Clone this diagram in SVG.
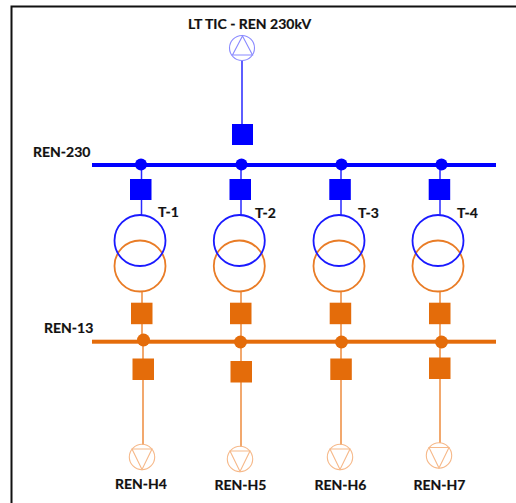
<svg xmlns="http://www.w3.org/2000/svg" width="516" height="503" viewBox="0 0 516 503">
<style>
text{font-family:"Lato","Liberation Sans",sans-serif;font-weight:700;font-size:14px;fill:#111;stroke:#111;stroke-width:.2}
.bb{fill:#0000ff}.ob{fill:#e46c0a}
.bl{stroke:#2a2aff;stroke-width:1.5;fill:none}
.ol{stroke:#ee8c3e;stroke-width:1.5;fill:none}
.bw{stroke:#1a1aff;stroke-width:1.8;fill:none}
.ow{stroke:#e97c26;stroke-width:1.8;fill:none}
.gs{stroke:#8a8aff;stroke-width:1.1;fill:none}
.ls{stroke:#f6b98a;stroke-width:1.1;fill:none}
</style>
<rect width="516" height="503" fill="#fff"/>
<path id="frame" d="M11.5 503V6.5H516" fill="none" stroke="#111" stroke-width="2"/>
<g id="connectors">
<path class="bl" d="M242 61V124M141.500 165V215M241 165V215M341 165V215M440 165V215"/>
<path class="ol" d="M142 291V303M241 291V303M341 291V303M440 291V303M142 324V342M241 324V342M341 324V342M440 324V342M143 342V445M241 342V447M341 342V445M440 342V443"/>
</g>
<g id="LT-TIC"><circle class="gs" cx="242" cy="48" r="12.500"/><path class="gs" d="M242.500 36L252.500 55H232.500Z"/><text x="188" y="29">LT TIC - REN 230kV</text></g>
<g id="CB-in"><rect class="bb" x="232" y="124" width="21" height="21"/></g>
<g id="REN-230"><rect class="bb" x="92" y="163" width="404" height="4"/><circle class="bb" cx="141" cy="164.500" r="6"/><circle class="bb" cx="241.500" cy="164.500" r="6"/><circle class="bb" cx="341.500" cy="164.500" r="6"/><circle class="bb" cx="441.500" cy="164.500" r="6"/><text x="33" y="157">REN-230</text></g>
<g id="T-1"><rect class="bb" x="130" y="179" width="21.500" height="21"/><circle class="ow" cx="140" cy="266" r="25.500"/><circle class="bw" cx="140" cy="240.500" r="25.500"/><text x="158" y="217">T-1</text></g>
<g id="T-2"><rect class="bb" x="229.500" y="179" width="21.500" height="21"/><circle class="ow" cx="239.300" cy="266" r="25.500"/><circle class="bw" cx="239.300" cy="240.500" r="25.500"/><text x="255" y="218">T-2</text></g>
<g id="T-3"><rect class="bb" x="329.300" y="179" width="21.500" height="21"/><circle class="ow" cx="339" cy="266" r="25.500"/><circle class="bw" cx="339" cy="240.500" r="25.500"/><text x="358" y="218">T-3</text></g>
<g id="T-4"><rect class="bb" x="428.700" y="179" width="21.500" height="21"/><circle class="ow" cx="438" cy="266" r="25.500"/><circle class="bw" cx="438" cy="240.500" r="25.500"/><text x="457" y="218">T-4</text></g>
<g id="REN-13"><rect class="ob" x="92" y="339.700" width="404" height="4"/><circle class="ob" cx="143.500" cy="340" r="6.500"/><circle class="ob" cx="240.500" cy="342" r="6.500"/><circle class="ob" cx="341.500" cy="342" r="6.500"/><circle class="ob" cx="441.500" cy="342" r="6.500"/><text x="44" y="332.700">REN-13</text>
<rect class="ob" x="131" y="302.700" width="21.500" height="21.500"/><rect class="ob" x="230" y="302.700" width="21.500" height="21.500"/><rect class="ob" x="329.700" y="302.700" width="21.500" height="21.500"/><rect class="ob" x="429" y="302.700" width="21.500" height="21.500"/></g>
<g id="REN-H4"><rect class="ob" x="132.500" y="358.500" width="21.500" height="21.500"/><circle class="ls" cx="142" cy="457" r="12.700"/><path class="ls" d="M132 449H152L142 469.500Z"/><text x="115" y="489.300">REN-H4</text></g>
<g id="REN-H5"><rect class="ob" x="230.500" y="361" width="21.500" height="21.500"/><circle class="ls" cx="240" cy="459" r="12.700"/><path class="ls" d="M230 451H250L240 471.500Z"/><text x="214.500" y="490">REN-H5</text></g>
<g id="REN-H6"><rect class="ob" x="330.300" y="358.500" width="21.500" height="21.500"/><circle class="ls" cx="340" cy="457" r="12.700"/><path class="ls" d="M330 449H350L340 469.500Z"/><text x="314.500" y="489.500">REN-H6</text></g>
<g id="REN-H7"><rect class="ob" x="429" y="357.500" width="21.500" height="21.500"/><circle class="ls" cx="439" cy="455.500" r="12.700"/><path class="ls" d="M429 447.500H449L439 468Z"/><text x="413.500" y="489.500">REN-H7</text></g>
</svg>
